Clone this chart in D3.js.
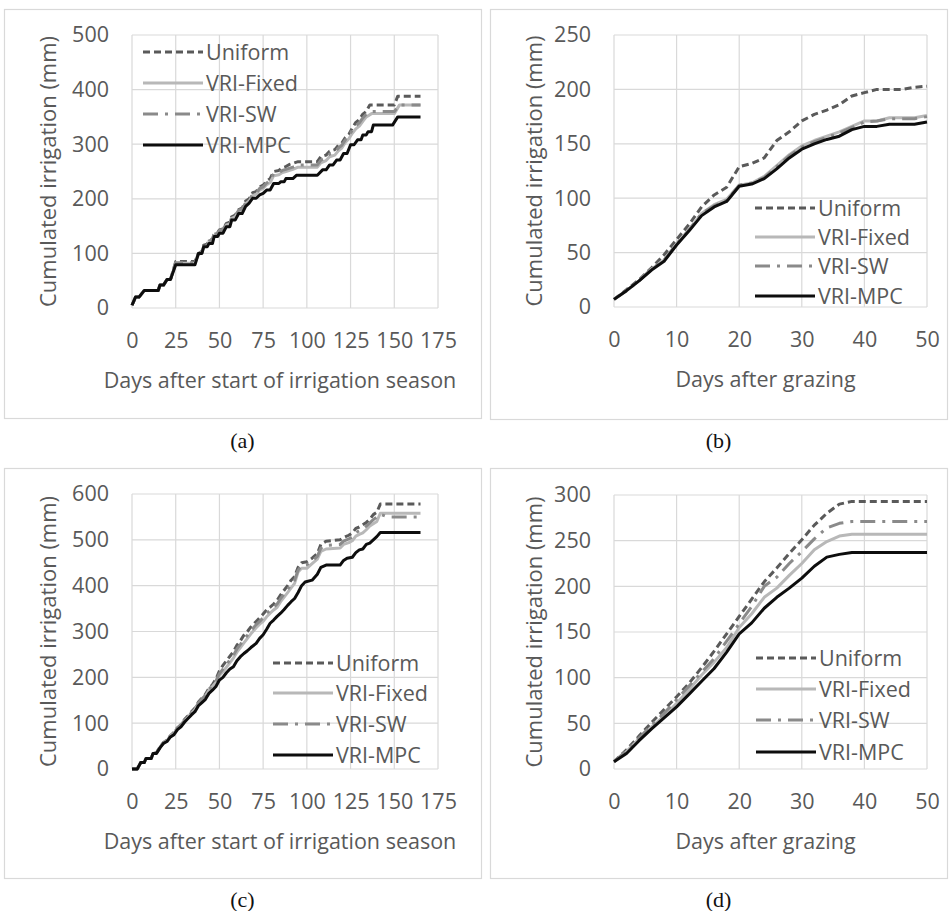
<!DOCTYPE html>
<html>
<head>
<meta charset="utf-8">
<script src="https://cdn.jsdelivr.net/npm/d3@7"></script>
<style>
  body { margin: 0; background: #fff; }
  svg text { font-family: "Open Sans", sans-serif; fill: #595959; }
  .caption { font-family: "Liberation Serif", serif; fill: #111; }
</style>
</head>
<body>
<div id="chart"></div>
<script>
// series names + styles shared by all four panels
const seriesNames = ["Uniform", "VRI-Fixed", "VRI-SW", "VRI-MPC"];

// (a) cumulated irrigation, [day, mm]
const aUniform = [[0,5],[2,20],[4,20],[7,32],[15,32],[16,42],[18,42],[20,52],[22,52],[25,85],[36,85],[38,100],[40,104],[41,115],[43,117],[44,124],[46,126],[47,136],[49,138],[50,143],[52,145],[54,155],[56,157],[57,167],[59,170],[61,180],[63,183],[65,196],[67,200],[69,211],[71,213],[73,222],[75,225],[77,232],[79,237],[81,250],[84,252],[86,257],[88,259],[90,263],[95,268],[106,268],[108,277],[111,280],[113,287],[116,290],[118,298],[120,302],[122,312],[124,318],[126,330],[128,340],[130,345],[132,355],[134,360],[136,372],[150,372],[152,388],[165,388]];
const aFixed = [[0,5],[2,20],[4,20],[7,32],[15,32],[16,42],[18,42],[20,52],[22,52],[25,82],[36,82],[38,98],[40,101],[41,112],[43,114],[44,121],[46,123],[47,133],[49,135],[50,140],[52,142],[54,152],[56,154],[57,164],[59,167],[61,177],[63,179],[65,191],[67,196],[69,206],[71,208],[73,216],[75,219],[77,226],[79,230],[81,242],[84,244],[86,248],[88,250],[92,254],[95,258],[106,258],[108,266],[111,270],[113,277],[116,280],[118,288],[120,293],[122,303],[124,310],[126,320],[128,328],[130,333],[132,342],[134,350],[137,356],[150,356],[153,372],[165,372]];
const aSW = [[0,5],[2,20],[4,20],[7,32],[15,32],[16,42],[18,42],[20,52],[22,52],[25,83],[36,83],[38,99],[40,103],[41,113],[43,116],[44,123],[46,125],[47,135],[49,137],[50,142],[52,144],[54,154],[56,156],[57,166],[59,169],[61,179],[63,181],[65,193],[67,198],[69,208],[71,210],[73,219],[75,222],[77,229],[79,233],[81,246],[84,248],[86,252],[88,254],[92,258],[95,262],[106,262],[108,271],[111,275],[113,282],[116,285],[118,293],[120,298],[122,308],[124,315],[126,326],[128,334],[130,339],[132,348],[134,355],[137,360],[150,360],[153,372],[165,372]];
const aMPC = [[0,5],[2,20],[4,20],[7,32],[15,32],[16,42],[18,42],[20,52],[22,52],[25,79],[36,79],[38,100],[40,100],[41,112],[43,112],[44,118],[46,118],[47,131],[49,131],[50,137],[52,137],[54,149],[56,149],[57,161],[59,161],[61,173],[63,173],[65,186],[67,192],[69,201],[71,201],[73,207],[75,210],[77,216],[79,216],[81,228],[84,228],[85,231],[87,231],[88,237],[92,237],[94,243],[106,243],[109,253],[111,253],[113,262],[115,262],[117,271],[119,271],[121,283],[123,283],[125,299],[127,299],[129,308],[131,308],[132,317],[134,317],[135,323],[137,323],[138,335],[149,335],[152,350],[165,350]];

// (b) days after grazing, every 2 days
const bDays = [0,2,4,6,8,10,12,14,16,18,20,22,24,26,28,30,32,34,36,38,40,42,44,46,48,50];
const bUniform = [7,16,25,36,48,62,76,92,103,110,129,132,137,153,161,171,177,181,186,194,197,200,200,200,202,203];
const bFixed = [7,15,24,35,43,58,71,86,94,99,112,114,120,130,140,148,153,157,161,166,171,171,174,174,174,176];
const bSW = [7,15,24,35,43,58,71,86,93,98,112,114,119,129,139,147,152,156,160,165,170,171,173,173,173,175];
const bMPC = [7,15,24,34,42,57,70,84,92,97,111,113,118,127,137,145,150,154,157,163,166,166,168,168,168,170];

// (c) cumulated irrigation, [day, mm]
const cUniform = [[0,0],[3,0],[5,14],[7,14],[8,23],[11,23],[12,34],[14,36],[16,48],[18,58],[20,63],[22,73],[24,80],[26,90],[28,97],[30,108],[32,116],[34,125],[36,133],[38,146],[40,155],[42,163],[44,176],[46,184],[48,196],[50,214],[52,226],[54,236],[56,246],[58,256],[60,270],[62,280],[64,292],[66,300],[68,310],[71,322],[73,330],[75,338],[77,347],[79,353],[81,360],[83,368],[85,380],[87,390],[89,400],[91,412],[93,420],[95,440],[97,450],[100,452],[103,460],[106,470],[108,490],[111,497],[119,500],[121,505],[124,510],[126,515],[128,525],[130,528],[132,533],[134,538],[136,545],[138,555],[140,560],[142,578],[165,578]];
const cFixed = [[0,0],[3,0],[5,14],[7,14],[8,23],[11,23],[12,34],[14,35],[16,47],[18,57],[20,62],[22,72],[24,78],[26,88],[28,95],[30,105],[32,113],[34,122],[36,130],[38,143],[40,151],[42,159],[44,172],[46,180],[48,189],[50,204],[52,212],[54,222],[56,232],[58,242],[60,255],[62,265],[64,275],[66,285],[68,295],[71,308],[73,316],[75,322],[77,332],[79,340],[81,347],[83,353],[85,365],[87,375],[89,385],[91,395],[93,405],[95,430],[97,438],[100,438],[103,448],[106,458],[108,475],[111,480],[119,482],[121,490],[124,494],[126,498],[128,508],[130,512],[132,515],[134,522],[136,530],[138,535],[140,540],[142,558],[165,558]];
const cSW = [[0,0],[3,0],[5,14],[7,14],[8,23],[11,23],[12,34],[14,35],[16,47],[18,57],[20,62],[22,72],[24,79],[26,89],[28,96],[30,106],[32,114],[34,123],[36,131],[38,144],[40,153],[42,161],[44,174],[46,182],[48,192],[50,208],[52,218],[54,228],[56,238],[58,248],[60,262],[62,272],[64,283],[66,292],[68,302],[71,315],[73,322],[75,330],[77,340],[79,346],[81,353],[83,360],[85,372],[87,382],[89,392],[91,403],[93,412],[95,434],[97,444],[100,446],[103,454],[106,464],[108,482],[111,488],[119,490],[121,497],[124,502],[126,506],[128,516],[130,520],[132,524],[134,530],[136,537],[138,544],[140,550],[142,556],[146,550],[165,550]];
const cMPC = [[0,0],[3,0],[5,14],[7,14],[8,23],[11,23],[12,34],[14,34],[16,46],[18,56],[20,60],[22,70],[24,75],[26,86],[28,92],[30,102],[32,110],[34,118],[36,125],[38,138],[40,145],[42,152],[44,165],[46,172],[48,180],[50,194],[52,200],[54,210],[56,218],[58,223],[60,236],[62,245],[64,252],[66,258],[68,265],[71,274],[73,285],[75,293],[77,305],[79,318],[81,325],[83,333],[85,340],[87,348],[89,357],[91,365],[93,372],[95,385],[97,400],[99,408],[103,412],[106,425],[108,440],[111,445],[119,445],[121,455],[123,460],[126,462],[128,472],[130,478],[132,480],[134,490],[136,493],[138,500],[140,507],[142,516],[165,516]];

// (d) days after grazing, every 2 days
const dDays = [0,2,4,6,8,10,12,14,16,18,20,22,24,26,28,30,32,34,36,38,40,42,44,46,48,50];
const dUniform = [8,21,36,51,65,79,94,111,129,148,167,186,205,220,236,251,267,280,290,293,293,293,293,293,293,293];
const dFixed = [8,19,33,46,58,72,87,103,117,133,155,170,188,198,212,225,240,249,255,257,257,257,257,257,257,257];
const dSW = [8,20,34,48,61,76,91,106,121,140,159,178,200,210,225,238,252,264,269,271,271,271,271,271,271,271];
const dMPC = [8,17,31,44,56,68,82,96,110,128,148,160,176,188,198,209,222,232,235,237,237,237,237,237,237,237];

const xTicksSeason = [0,25,50,75,100,125,150,175];
const xTicksGrazing = [0,10,20,30,40,50];
const xTitleSeason = "Days after start of irrigation season";
const xTitleGrazing = "Days after grazing";
const yTitle = "Cumulated irrigation (mm)";

const styles = [
    {color: "#5a5a5a", dash: "7,4"},
    {color: "#b8b8b8", dash: null},
    {color: "#8a8a8a", dash: "15,7,3,7"},
    {color: "#0d0d0d", dash: null}
];

const FS = "21.5px";

const zip = (days, vals) => days.map((d, i) => [d, vals[i]]);

const svg = d3.select("#chart").append("svg")
    .attr("width", 952)
    .attr("height", 911);

function drawPanel(p) {
    let g = svg.append("g");

    // panel frame
    g.append("rect")
        .attr("x", p.box[0] + 0.5).attr("y", p.box[1] + 0.5)
        .attr("width", p.box[2]).attr("height", p.box[3])
        .attr("fill", "none").attr("stroke", "#d9d9d9").attr("stroke-width", 1.2);

    let x = d3.scaleLinear().domain(p.xDomain).range([p.plot.left, p.plot.right]);
    let y = d3.scaleLinear().domain(p.yDomain).range([p.plot.bottom, p.plot.top]);

    // gridlines
    g.append("g").selectAll("line").data(p.xTicks).join("line")
        .attr("x1", d => x(d)).attr("x2", d => x(d))
        .attr("y1", p.plot.top).attr("y2", p.plot.bottom)
        .attr("stroke", "#d9d9d9").attr("stroke-width", 1.2);
    g.append("g").selectAll("line").data(p.yTicks).join("line")
        .attr("x1", p.plot.left).attr("x2", p.plot.right)
        .attr("y1", d => y(d)).attr("y2", d => y(d))
        .attr("stroke", "#d9d9d9").attr("stroke-width", 1.2);

    // axes via d3 axis, lines hidden
    let xAxis = g.append("g")
        .attr("transform", `translate(0, ${p.plot.bottom})`)
        .call(d3.axisBottom(x).tickValues(p.xTicks).tickSize(0).tickPadding(25));
    let yAxis = g.append("g")
        .attr("transform", `translate(${p.plot.left}, 0)`)
        .call(d3.axisLeft(y).tickValues(p.yTicks).tickSize(0).tickPadding(23));
    [xAxis, yAxis].forEach(a => {
        a.select(".domain").remove();
        a.selectAll("text").style("font-size", FS).attr("fill", "#595959")
            .style("font-family", "'Open Sans', sans-serif");
    });

    // axis titles
    g.append("text")
        .attr("x", (p.plot.left + p.plot.right) / 2 - 5)
        .attr("y", p.plot.bottom + 80)
        .attr("text-anchor", "middle")
        .style("font-size", FS)
        .text(p.xTitle);
    g.append("text")
        .attr("transform", `translate(${p.box[0] + 52}, ${(p.plot.top + p.plot.bottom) / 2}) rotate(-90)`)
        .attr("text-anchor", "middle")
        .style("font-size", "22px")
        .text(yTitle);

    // series lines
    let line = d3.line().x(d => x(d[0])).y(d => y(d[1]));
    p.series.forEach((s, i) => {
        g.append("path")
            .datum(s)
            .attr("d", line)
            .attr("fill", "none")
            .attr("stroke", styles[i].color)
            .attr("stroke-width", 3)
            .attr("stroke-dasharray", styles[i].dash)
            .attr("stroke-linejoin", "round");
    });

    // legend
    let lg = g.append("g");
    seriesNames.forEach((name, i) => {
        let ly = p.legend.rows[i];
        lg.append("line")
            .attr("x1", p.legend.x).attr("x2", p.legend.x + 60)
            .attr("y1", ly).attr("y2", ly)
            .attr("stroke", styles[i].color)
            .attr("stroke-width", 3)
            .attr("stroke-dasharray", styles[i].dash);
        lg.append("text")
            .attr("x", p.legend.x + 63)
            .attr("y", ly)
            .attr("dy", "0.35em")
            .style("font-size", FS)
            .text(name);
    });

    // caption
    svg.append("text")
        .attr("class", "caption")
        .attr("x", p.box[0] + p.box[2] / 2)
        .attr("y", p.captionY)
        .attr("text-anchor", "middle")
        .style("font-size", "22px")
        .text(p.caption);
}

const panels = [
    {box: [4, 9, 477, 409], plot: {left: 132, right: 438, top: 35, bottom: 308},
     xDomain: [0, 175], yDomain: [0, 500], xTicks: xTicksSeason, yTicks: [0,100,200,300,400,500],
     xTitle: xTitleSeason, series: [aUniform, aFixed, aSW, aMPC],
     legend: {x: 143, rows: [52, 83, 114, 145]}, caption: "(a)", captionY: 448},
    {box: [490, 9, 457, 410], plot: {left: 614, right: 927, top: 35, bottom: 307},
     xDomain: [0, 50], yDomain: [0, 250], xTicks: xTicksGrazing, yTicks: [0,50,100,150,200,250],
     xTitle: xTitleGrazing, series: [zip(bDays, bUniform), zip(bDays, bFixed), zip(bDays, bSW), zip(bDays, bMPC)],
     legend: {x: 755, rows: [208, 237, 266, 296]}, caption: "(b)", captionY: 448},
    {box: [4, 468, 477, 410], plot: {left: 132, right: 438, top: 494, bottom: 769},
     xDomain: [0, 175], yDomain: [0, 600], xTicks: xTicksSeason, yTicks: [0,100,200,300,400,500,600],
     xTitle: xTitleSeason, series: [cUniform, cFixed, cSW, cMPC],
     legend: {x: 273, rows: [663, 693, 724, 755]}, caption: "(c)", captionY: 907},
    {box: [490, 468, 457, 410], plot: {left: 614, right: 927, top: 495, bottom: 769},
     xDomain: [0, 50], yDomain: [0, 300], xTicks: xTicksGrazing, yTicks: [0,50,100,150,200,250,300],
     xTitle: xTitleGrazing, series: [zip(dDays, dUniform), zip(dDays, dFixed), zip(dDays, dSW), zip(dDays, dMPC)],
     legend: {x: 756, rows: [658, 689, 720, 752]}, caption: "(d)", captionY: 907}
];

panels.forEach(drawPanel);
</script>
</body>
</html>
